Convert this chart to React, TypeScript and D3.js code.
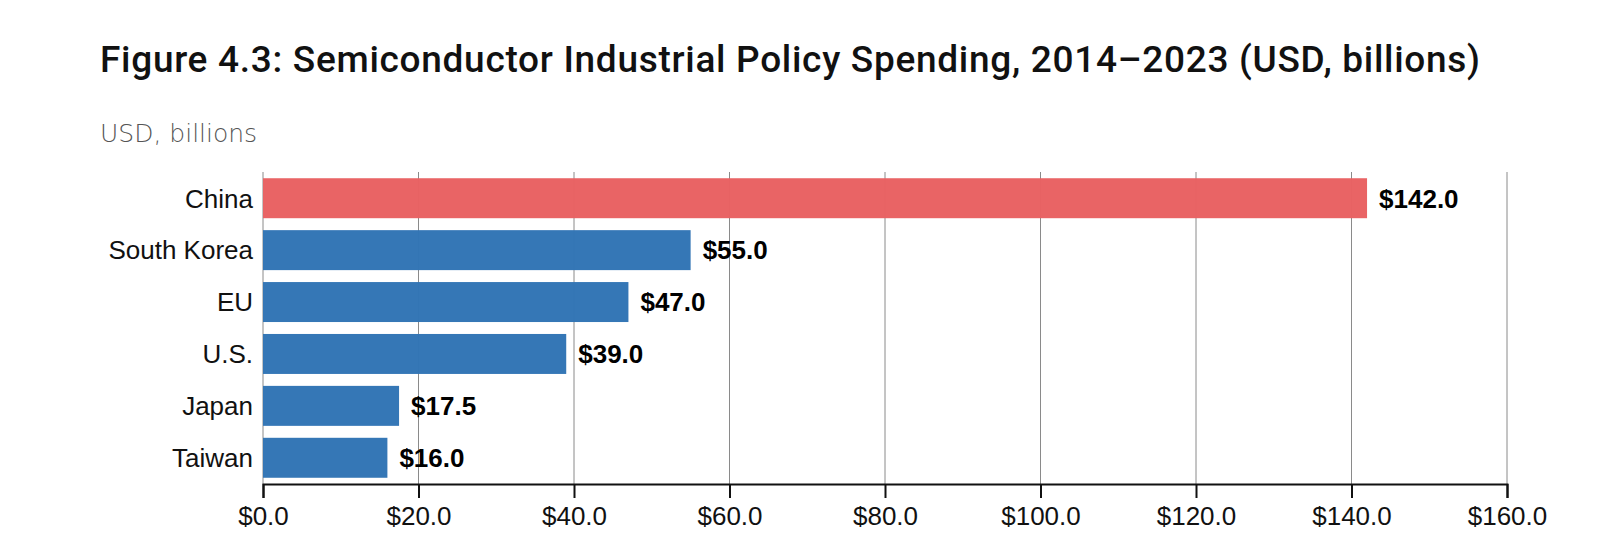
import React, { useEffect, useRef } from 'react';
import * as d3 from 'd3';

const countries = ['China', 'South Korea', 'EU', 'U.S.', 'Japan', 'Taiwan'];
const spending = [142.0, 55.0, 47.0, 39.0, 17.5, 16.0];
const tickValues = [0, 20, 40, 60, 80, 100, 120, 140, 160];

const title = 'Figure 4.3: Semiconductor Industrial Policy Spending, 2014–2023 (USD, billions)';
const subtitle = 'USD, billions';

const App: React.FC = () => {
  const svgRef = useRef<SVGSVGElement>(null);

  useEffect(() => {
    if (!svgRef.current) return;
    const svg = d3.select(svgRef.current);
    svg.selectAll('*').remove();

    const width = 1600;
    const height = 555;
    const margin = { top: 172, right: 93, bottom: 71, left: 263 };
    const font = '"Liberation Sans", Arial, sans-serif';

    const data = countries.map((c, i) => ({ country: c, value: spending[i] }));

    const x = d3
      .scaleLinear()
      .domain([0, 160])
      .range([margin.left, width - margin.right]);

    const y = d3
      .scaleBand()
      .domain(countries)
      .range([margin.top, height - margin.bottom])
      .paddingInner(0.23)
      .paddingOuter(0.12);

    svg.append('rect').attr('width', width).attr('height', height).attr('fill', '#fff');

    // title + subtitle
    svg
      .append('text')
      .attr('x', 100)
      .attr('y', 72)
      .attr('font-family', 'Roboto, "Liberation Sans", sans-serif')
      .attr('font-size', 37)
      .attr('font-weight', 500)
      .attr('fill', '#111')
      .attr('textLength', 1380)
      .attr('lengthAdjust', 'spacing')
      .text(title);

    svg
      .append('text')
      .attr('x', 100)
      .attr('y', 142)
      .attr('font-family', '"DejaVu Sans", sans-serif')
      .attr('font-size', 25)
      .attr('font-weight', 200)
      .attr('fill', '#555')
      .text(subtitle);

    // gridlines
    svg
      .append('g')
      .selectAll('line')
      .data(tickValues)
      .enter()
      .append('line')
      .attr('x1', (d) => x(d))
      .attr('x2', (d) => x(d))
      .attr('y1', margin.top)
      .attr('y2', height - margin.bottom)
      .attr('stroke', '#8a8a8a')
      .attr('stroke-width', 1);

    // bars
    svg
      .append('g')
      .selectAll('rect')
      .data(data)
      .enter()
      .append('rect')
      .attr('x', x(0))
      .attr('y', (d) => y(d.country) || 0)
      .attr('width', (d) => x(d.value) - x(0))
      .attr('height', y.bandwidth())
      .attr('fill', (d) => (d.country === 'China' ? '#e96162' : '#3174b5'))
      .attr('fill-opacity', 0.98);

    // value labels
    svg
      .append('g')
      .selectAll('text')
      .data(data)
      .enter()
      .append('text')
      .attr('x', (d) => x(d.value) + 12)
      .attr('y', (d) => (y(d.country) || 0) + y.bandwidth() / 2)
      .attr('dy', '0.36em')
      .attr('font-family', font)
      .attr('font-size', 26)
      .attr('font-weight', 'bold')
      .attr('fill', '#000')
      .text((d) => `$${d.value.toFixed(1)}`);

    // category labels
    svg
      .append('g')
      .selectAll('text')
      .data(countries)
      .enter()
      .append('text')
      .attr('x', margin.left - 10)
      .attr('y', (d) => (y(d) || 0) + y.bandwidth() / 2)
      .attr('dy', '0.36em')
      .attr('text-anchor', 'end')
      .attr('font-family', font)
      .attr('font-size', 26)
      .attr('fill', '#111')
      .text((d) => d);

    // x axis
    const xAxis = svg
      .append('g')
      .attr('transform', `translate(0,${height - margin.bottom})`)
      .call(
        d3
          .axisBottom(x)
          .tickValues(tickValues)
          .tickSize(14)
          .tickPadding(9)
          .tickFormat((d) => `$${(d as number).toFixed(1)}`)
      );
    xAxis.select('.domain').attr('stroke', '#111').attr('stroke-width', 2);
    xAxis.selectAll('.tick line').attr('stroke', '#111').attr('stroke-width', 2);
    xAxis
      .selectAll('.tick text')
      .attr('font-family', font)
      .attr('font-size', 26)
      .attr('fill', '#111');
  }, []);

  return (
    <svg
      ref={svgRef}
      width={1600}
      height={555}
      style={{ position: 'absolute', top: 0, left: 0 }}
    ></svg>
  );
};

export default App;
